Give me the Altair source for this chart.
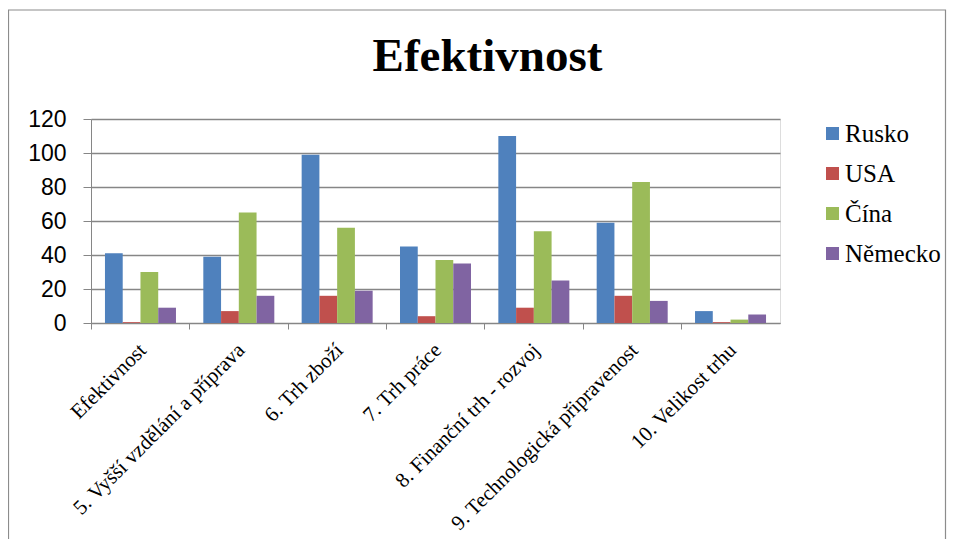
import altair as alt
import pandas as pd

categories = [
    "Efektivnost",
    "5. Vyšší vzdělání a příprava",
    "6. Trh zboží",
    "7. Trh práce",
    "8. Finanční trh - rozvoj",
    "9. Technologická připravenost",
    "10. Velikost trhu",
]
series = ["Rusko", "USA", "Čína", "Německo"]
rusko = [41, 39, 99, 45, 110, 59, 7]
usa = [0.5, 7, 16, 4, 9, 16, 0.5]
cina = [30, 65, 56, 37, 54, 83, 2]
nemecko = [9, 16, 19, 35, 25, 13, 5]
colors = ["#4F81BD", "#C0504D", "#9BBB59", "#8064A2"]
y_ticks = [0, 20, 40, 60, 80, 100, 120]

rows = []
for s, vals in zip(series, [rusko, usa, cina, nemecko]):
    for c, v in zip(categories, vals):
        rows.append({"kategorie": c, "zeme": s, "hodnota": v})
df = pd.DataFrame(rows)

bars = alt.Chart(df).mark_bar().encode(
    x=alt.X(
        "kategorie:N",
        sort=categories,
        title=None,
        scale=alt.Scale(paddingInner=0.278, paddingOuter=0.142),
        axis=alt.Axis(
            labelAngle=-45,
            labelFont="Liberation Serif",
            labelFontSize=21,
            labelColor="black",
            labelPadding=10,
            labelOffset=-5,
            domainColor="#868686",
            tickColor="#868686",
            tickSize=6,
            bandPosition=-0.19,
            labelLimit=400,
        ),
    ),
    xOffset=alt.XOffset("zeme:N", sort=series),
    y=alt.Y(
        "hodnota:Q",
        title=None,
        scale=alt.Scale(domain=[0, 120], nice=False),
        axis=alt.Axis(
            values=y_ticks,
            labelFont="Liberation Sans",
            labelFontSize=23,
            labelColor="black",
            labelPadding=17,
            domainColor="#868686",
            tickColor="#868686",
            tickSize=8,
            gridColor="#868686",
            gridWidth=1.3,
        ),
    ),
    color=alt.Color(
        "zeme:N",
        sort=series,
        scale=alt.Scale(domain=series, range=colors),
        legend=alt.Legend(
            title=None,
            orient="none",
            legendX=729,
            legendY=2,
            symbolType="square",
            symbolSize=170,
            symbolStrokeWidth=0,
            labelFont="Liberation Serif",
            labelFontSize=25,
            labelColor="black",
            labelOffset=0,
            rowPadding=14,
        ),
    ),
)

border = alt.Chart(pd.DataFrame({"a": [0]})).mark_rect(
    fill=None, stroke="#8c8c8c", strokeWidth=1.2
).encode(
    x=alt.value(-82.5),
    x2=alt.value(854.5),
    y=alt.value(-109),
    y2=alt.value(440),
)

chart = alt.layer(border, bars).properties(
    width=689,
    height=204,
    padding={"left": 83, "top": 111, "right": 167, "bottom": 216},
    autosize=alt.AutoSizeParams(type="none"),
    title=alt.Title(
        "Efektivnost",
        font="Liberation Serif",
        fontSize=47,
        fontWeight="bold",
        color="black",
        anchor="middle",
        frame="group",
        dx=52,
        offset=-109,
        baseline="alphabetic",
    ),
).configure_view(stroke=None).configure(background="white")

chart.save("out.html", embed_options={"renderer": "svg", "actions": False})
